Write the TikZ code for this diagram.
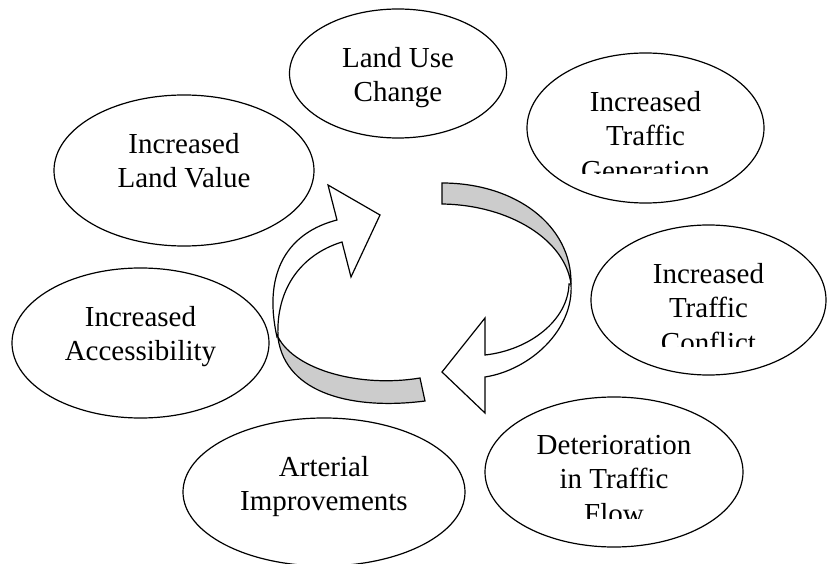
\documentclass[tikz,border=0pt]{standalone}
\usepackage{fontspec}
\setmainfont{Liberation Serif}
\usetikzlibrary{shapes.geometric}
\tikzset{
    bubble/.style={draw,ellipse,line width=1.2pt,inner sep=0pt,outer sep=0pt},
    txt/.style={font=\fontsize{29}{34.5}\selectfont,align=center,inner sep=0pt,anchor=north},
    ribbon/.style={draw,line width=1.2pt,line join=miter}
}
\definecolor{sh}{HTML}{CCCCCC}

\begin{document}
\begin{tikzpicture}[x=1pt,y=-1pt]
			\useasboundingbox (0,0) rectangle (828,564);
			\node[bubble, minimum width=217pt, minimum height=129pt] (use) at (398,73.5) {};
			\node[bubble, minimum width=237pt, minimum height=150pt] (gen) at (645.5,128) {};
			\node[bubble, minimum width=260pt, minimum height=151pt] (value) at (184,170.5) {};
			\node[bubble, minimum width=257pt, minimum height=150pt] (access) at (140.5,343) {};
			\node[bubble, minimum width=235pt, minimum height=150pt] (conflict) at (708.5,300) {};
			\node[bubble, minimum width=282pt, minimum height=148pt] (arterial) at (324,492) {};
			\node[bubble, minimum width=258pt, minimum height=150pt] (flow) at (614,472) {};
			\node[txt] (usetxt) at ([yshift=-38pt]use.north) {Land Use\\Change};
			\node[txt] (valuetxt) at ([yshift=-38pt]value.north) {Increased\\Land Value};
			\node[txt] (accesstxt) at ([yshift=-38pt]access.north) {Increased\\Accessibility};
			\node[txt] (arterialtxt) at ([yshift=-38pt]arterial.north) {Arterial\\Improvements};
			\begin{scope}
				\clip (527,53) rectangle (764,174);
				\node[txt] (gentxt) at ([yshift=-38pt]gen.north) {Increased\\Traffic\\Generation};
			\end{scope}
			\begin{scope}
				\clip (591,225) rectangle (826,346);
				\node[txt] (conflicttxt) at ([yshift=-38pt]conflict.north) {Increased\\Traffic\\Conflict};
			\end{scope}
			\begin{scope}
				\clip (485,397) rectangle (743,518);
				\node[txt] (flowtxt) at ([yshift=-38pt]flow.north) {Deterioration\\in Traffic\\Flow};
			\end{scope}
			\filldraw[ribbon, fill=sh] (278,337) .. controls (295,370) and (360,388) .. (420,378) -- (425,401) .. controls (355,410) and (286,395) .. (278,338) -- cycle;
			\filldraw[ribbon, fill=white] (277,337) .. controls (262,270) and (290,232) .. (337,220) -- (328,185) -- (380,215) -- (351,277) -- (342,242) .. controls (300,255) and (276,290) .. (278,336) -- cycle;
			\filldraw[ribbon, fill=sh] (442,183) .. controls (515,183) and (572,225) .. (571,284) .. controls (565,240) and (510,205) .. (442,204) -- cycle;
			\filldraw[ribbon, fill=white] (571,284) .. controls (574,330) and (530,370) .. (485,377) -- (485,413) -- (442,372) -- (485,318) -- (485,355) .. controls (530,350) and (568,320) .. (569,284) -- cycle;
		\end{tikzpicture}
\end{document}
